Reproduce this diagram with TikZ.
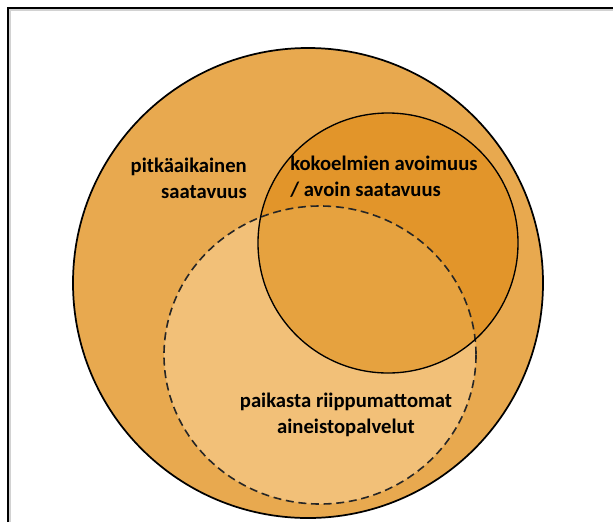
\documentclass[tikz,border=0pt]{standalone}
\usepackage{fontspec}
\setmainfont{Carlito}

\definecolor{outerfill}{HTML}{E8A94F}
\definecolor{darkfill}{HTML}{E2952A}
\definecolor{lightfill}{HTML}{F2C078}
\definecolor{midfill}{HTML}{E6A23F}

\tikzset{
    venntext/.style={font=\fontsize{15.5}{19.5}\selectfont\bfseries, text=black, inner sep=0pt},
}

\begin{document}
\begin{tikzpicture}[x=0.75pt, y=-0.75pt]
    % page size in pixels, y goes down
    \useasboundingbox (0, 0) rectangle (613, 522);

    % variables
    \def\outerx{308}
    \def\outery{283}
    \def\outerr{235}
    \def\openx{388}
    \def\openy{243}
    \def\openr{130}
    \def\remotex{320}
    \def\remotey{355}
    \def\remoterx{156}
    \def\remotery{149}

    % Frame (only left and top edges show)
    \draw[gray!35, line width=0.8pt] (10, 522) -- (10, 10) -- (613, 10);
    \draw[black, line width=1.3pt] (8, 522) -- (8, 8) -- (613, 8);

    % Big circle
    \fill[outerfill] (\outerx, \outery) circle (\outerr);

    % Dashed circle
    \fill[lightfill] (\remotex, \remotey) ellipse ({\remoterx} and {\remotery});

    % Solid circle
    \fill[darkfill] (\openx, \openy) circle (\openr);
    \begin{scope}
        \clip (\remotex, \remotey) ellipse ({\remoterx} and {\remotery});
        \fill[midfill] (\openx, \openy) circle (\openr);
    \end{scope}

    % Outlines
    \draw[black, line width=1.3pt] (\outerx, \outery) circle (\outerr);
    \draw[black!85, line width=1.2pt, dash pattern=on 6pt off 3.5pt] (\remotex, \remotey) ellipse ({\remoterx} and {\remotery});
    \draw[black, line width=1pt] (\openx, \openy) circle (\openr);

    % Labels
    \node[venntext, align=right, anchor=east] (longterm) at (247, 178) {pitkäaikainen\\saatavuus};
    \node[venntext, align=left, anchor=west] (openness) at (290, 177) {kokoelmien avoimuus\\/ avoin saatavuus};
    \node[venntext, align=center] (remote) at (346, 415) {paikasta riippumattomat\\aineistopalvelut};

\end{tikzpicture}
\end{document}
